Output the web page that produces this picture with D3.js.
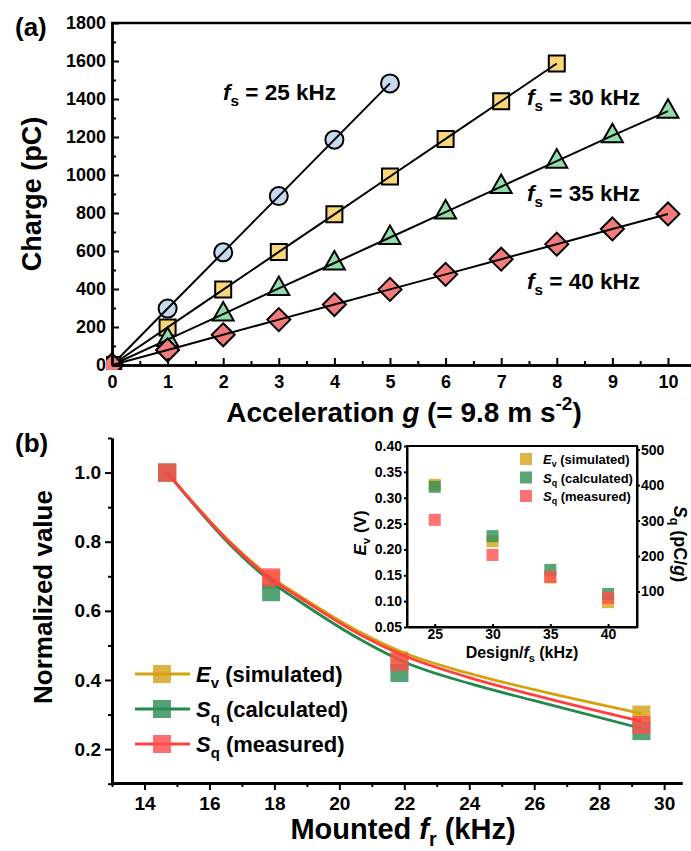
<!DOCTYPE html>
<html>
<head>
<meta charset="utf-8">
<script src="https://cdn.jsdelivr.net/npm/d3@7"></script>
<style>
  body { margin: 0; background: #fff; }
  svg text { font-family: "Liberation Sans", Arial, sans-serif; font-weight: bold; fill: #000; }
</style>
</head>
<body>
<div id="chart"></div>
<script>
// ---- panel (a): charge vs acceleration
const accel = [0, 1, 2, 3, 4, 5, 6, 7, 8, 9, 10];
const charge25 = [0, 297, 593, 889, 1186, 1482];
const charge30 = [0, 198, 397, 595, 793, 992, 1190, 1388, 1587];
const charge35 = [0, 134, 268, 403, 537, 671, 805, 939, 1073, 1207, 1336];
const charge40 = [0, 79, 159, 239, 318, 398, 477, 557, 636, 716, 795];
const ticksAx = [0, 1, 2, 3, 4, 5, 6, 7, 8, 9, 10];
const ticksAy = [0, 200, 400, 600, 800, 1000, 1200, 1400, 1600, 1800];

// ---- panel (b): normalized values vs mounted fr
const mountedFr = [14.7, 17.9, 21.85, 29.3];
const normEv = [1.0, 0.69, 0.457, 0.30];
const normSqCalc = [1.0, 0.654, 0.42, 0.252];
const normSqMeas = [1.0, 0.697, 0.452, 0.27];
// fitted curves
const fitFr = [14.7, 16.6, 17.9, 18.7, 20.7, 22, 24, 26, 29.3];
const fitEv = [1.0, 0.803, 0.697, 0.648, 0.535, 0.478, 0.419, 0.372, 0.303];
const fitSqCalc = [1.0, 0.795, 0.684, 0.632, 0.514, 0.452, 0.39, 0.34, 0.26];
const fitSqMeas = [1.0, 0.80, 0.692, 0.643, 0.528, 0.47, 0.407, 0.356, 0.28];
const ticksBx = [14, 16, 18, 20, 22, 24, 26, 28, 30];
const ticksBy = [0.2, 0.4, 0.6, 0.8, 1.0];

// ---- inset
const designFs = [25, 30, 35, 40];
const evSim = [0.325, 0.216, 0.146, 0.098];
const sqCalc = [395, 256, 161, 93];
const sqMeas = [302, 203, 141, 82];
const ticksInX = [25, 30, 35, 40];
const ticksInL = [0.05, 0.10, 0.15, 0.20, 0.25, 0.30, 0.35, 0.40];
const ticksInR = [100, 200, 300, 400, 500];

const W = 691, H = 851;
const svg = d3.select("#chart").append("svg")
  .attr("width", W).attr("height", H)
  .attr("viewBox", [0, 0, W, H]);

// text with italic / sub / sup pieces
function rich(parent, x, y, parts, size, anchor, rotate) {
  const t = parent.append("text")
    .attr("x", x).attr("y", y)
    .attr("font-size", size)
    .attr("text-anchor", anchor || "start");
  if (rotate) t.attr("transform", `rotate(${rotate},${x},${y})`);
  let shift = 0;
  parts.forEach(p => {
    const ts = t.append("tspan").text(p.t);
    const target = p.sub ? size * 0.25 : p.sup ? -size * 0.42 : 0;
    if (target !== shift) { ts.attr("dy", target - shift); shift = target; }
    if (p.sub || p.sup) ts.attr("font-size", size * 0.68);
    if (p.i) ts.attr("font-style", "italic");
  });
  return t;
}

function styleAxis(g, size, w) {
  g.attr("font-family", null).attr("font-size", null);
  g.select(".domain").attr("stroke-width", w || 2.5).attr("stroke", "#000");
  g.selectAll(".tick line").attr("stroke-width", 2).attr("stroke", "#000");
  g.selectAll(".tick text").attr("font-size", size).attr("fill", "#000");
}

// ================= panel (a)
const xA = d3.scaleLinear().domain([0, 10.45]).range([112, 693]);
const yA = d3.scaleLinear().domain([0, 1800]).range([365, 23]);

svg.append("defs").append("clipPath").attr("id", "clipA")
  .append("rect").attr("x", 106).attr("y", 0).attr("width", 600).attr("height", 370);

const gA = svg.append("g").attr("clip-path", "url(#clipA)");

const seriesA = [
  { vals: charge25, shape: "circle", fill: "#c6d9ee" },
  { vals: charge30, shape: "square", fill: "#f9d776" },
  { vals: charge35, shape: "triangle", fill: "#90dcaa" },
  { vals: charge40, shape: "diamond", fill: "#f47b7b" }
];

const shapes = {
  circle: "M9,0A9,9 0 1,1 -9,0A9,9 0 1,1 9,0Z",
  square: "M-8,-8H8V8H-8Z",
  triangle: "M0,-12L10.5,6.5L-10.5,6.5Z",
  diamond: "M0,-11.5L11.5,0L0,11.5L-11.5,0Z"
};

const lineA = d3.line().x((d, i) => xA(accel[i])).y(d => yA(d));

seriesA.forEach(s => {
  gA.selectAll(null).data(s.vals).enter().append("path")
    .attr("d", shapes[s.shape])
    .attr("transform", (d, i) => `translate(${xA(accel[i])},${yA(d)})`)
    .attr("fill", s.fill).attr("stroke", "#000").attr("stroke-width", 2);
  gA.append("path").datum(s.vals)
    .attr("d", lineA).attr("fill", "none")
    .attr("stroke", "#000").attr("stroke-width", 2);
});

// axes (a)
const axAx = svg.append("g").attr("transform", "translate(0,365)")
  .call(d3.axisBottom(xA).tickValues(ticksAx).tickSize(-7).tickSizeOuter(0).tickPadding(10));
styleAxis(axAx, 18);
const axAxm = svg.append("g").attr("transform", "translate(0,365)")
  .call(d3.axisBottom(xA).tickValues(ticksAx.slice(0, -1).map(v => v + 0.5)).tickSize(-4).tickSizeOuter(0).tickFormat(""));
styleAxis(axAxm, 18);
const axAy = svg.append("g").attr("transform", "translate(112,0)")
  .call(d3.axisLeft(yA).tickValues(ticksAy).tickSize(-7).tickSizeOuter(0).tickPadding(6).tickFormat(d3.format("d")));
styleAxis(axAy, 18);
const axAym = svg.append("g").attr("transform", "translate(112,0)")
  .call(d3.axisLeft(yA).tickValues(ticksAy.slice(0, -1).map(v => v + 100)).tickSize(-4).tickSizeOuter(0).tickFormat(""));
styleAxis(axAym, 18);
svg.append("line").attr("x1", 111).attr("x2", 693).attr("y1", 23).attr("y2", 23)
  .attr("stroke", "#000").attr("stroke-width", 2.5);

rich(svg, 15, 36, [{ t: "(a)" }], 26);
rich(svg, 41, 194, [{ t: "Charge (pC)" }], 27, "middle", -90);
rich(svg, 404, 422, [{ t: "Acceleration " }, { t: "g", i: 1 }, { t: " (= 9.8 m s" }, { t: "-2", sup: 1 }, { t: ")" }], 28, "middle");

const fsLabels = [
  { x: 223, y: 100, v: "25" },
  { x: 527, y: 105, v: "30" },
  { x: 527, y: 201, v: "35" },
  { x: 527, y: 289, v: "40" }
];
fsLabels.forEach(l => rich(svg, l.x, l.y, [{ t: "f", i: 1 }, { t: "s", sub: 1 }, { t: ` = ${l.v} kHz` }], 22.5));

// ================= panel (b)
const xB = d3.scaleLinear().domain([13, 30.55]).range([112, 682]);
const yB = d3.scaleLinear().domain([0.102, 1.1]).range([783, 438]);

const seriesB = [
  { pts: normEv, fit: fitEv, line: "#d4a10f", fill: "#d4a119", parts: [{ t: "E", i: 1 }, { t: "v", sub: 1 }, { t: " (simulated)" }] },
  { pts: normSqCalc, fit: fitSqCalc, line: "#23894a", fill: "#2f8f55", parts: [{ t: "S", i: 1 }, { t: "q", sub: 1 }, { t: " (calculated)" }] },
  { pts: normSqMeas, fit: fitSqMeas, line: "#ff4040", fill: "#ff4f4f", parts: [{ t: "S", i: 1 }, { t: "q", sub: 1 }, { t: " (measured)" }] }
];

const lineB = d3.line().x((d, i) => xB(fitFr[i])).y(d => yB(d)).curve(d3.curveMonotoneX);
const gB = svg.append("g");
seriesB.forEach(s => {
  gB.selectAll(null).data(s.pts).enter().append("rect")
    .attr("x", (d, i) => xB(mountedFr[i]) - 9).attr("y", d => yB(d) - 9)
    .attr("width", 18).attr("height", 18)
    .attr("fill", s.fill).attr("fill-opacity", 0.82);
  gB.append("path").datum(s.fit).attr("d", lineB)
    .attr("fill", "none").attr("stroke", s.line).attr("stroke-width", 2.8);
});

const axBx = svg.append("g").attr("transform", "translate(0,783)")
  .call(d3.axisBottom(xB).tickValues(ticksBx).tickSize(7).tickSizeOuter(0).tickPadding(7));
styleAxis(axBx, 19, 3);
const axBxm = svg.append("g").attr("transform", "translate(0,783)")
  .call(d3.axisBottom(xB).tickValues(ticksBx.map(v => v - 1)).tickSize(4).tickSizeOuter(0).tickFormat(""));
styleAxis(axBxm, 19, 3);
const axBy = svg.append("g").attr("transform", "translate(112,0)")
  .call(d3.axisLeft(yB).tickValues(ticksBy).tickSize(7).tickSizeOuter(0).tickPadding(4).tickFormat(d3.format(".1f")));
styleAxis(axBy, 19, 3);
const axBym = svg.append("g").attr("transform", "translate(112,0)")
  .call(d3.axisLeft(yB).tickValues(ticksBy.map(v => v - 0.1).concat([1.1])).tickSize(4).tickSizeOuter(0).tickFormat(""));
styleAxis(axBym, 19, 3);

rich(svg, 15, 452, [{ t: "(b)" }], 26);
rich(svg, 52, 597, [{ t: "Normalized value" }], 26, "middle", -90);
rich(svg, 403, 839, [{ t: "Mounted " }, { t: "f", i: 1 }, { t: "r", sub: 1 }, { t: " (kHz)" }], 29, "middle");

// legend (b)
const legB = svg.append("g");
seriesB.forEach((s, i) => {
  const cy = 674 + i * 35;
  legB.append("line").attr("x1", 135).attr("x2", 190).attr("y1", cy).attr("y2", cy)
    .attr("stroke", s.line).attr("stroke-width", 2.8);
  legB.append("rect").attr("x", 153).attr("y", cy - 9).attr("width", 18).attr("height", 18)
    .attr("fill", s.fill).attr("fill-opacity", 0.82);
  rich(legB, 196, cy + 8, s.parts, 22);
});

// ================= inset
const xI = d3.scaleLinear().domain([22.6, 42.5]).range([407, 637]);
const yIL = d3.scaleLinear().domain([0.05, 0.40]).range([627, 446]);
const yIR = d3.scaleLinear().domain([0, 510]).range([627, 446]);
const gI = svg.append("g");
gI.append("rect").attr("x", 407).attr("y", 446).attr("width", 230).attr("height", 181)
  .attr("fill", "#fff");

const seriesI = [
  { vals: evSim, y: yIL, fill: seriesB[0].fill, parts: seriesB[0].parts },
  { vals: sqCalc, y: yIR, fill: seriesB[1].fill, parts: seriesB[1].parts },
  { vals: sqMeas, y: yIR, fill: seriesB[2].fill, parts: seriesB[2].parts }
];
seriesI.forEach(s => {
  gI.selectAll(null).data(s.vals).enter().append("rect")
    .attr("x", (d, i) => xI(designFs[i]) - 6).attr("y", d => s.y(d) - 6)
    .attr("width", 12).attr("height", 12)
    .attr("fill", s.fill).attr("fill-opacity", 0.8);
});
seriesI.forEach((s, i) => {
  const cy = 459 + i * 18.5;
  gI.append("rect").attr("x", 520).attr("y", cy - 6).attr("width", 12).attr("height", 12)
    .attr("fill", s.fill).attr("fill-opacity", 0.8);
  rich(gI, 543, cy + 5, s.parts, 13);
});

gI.append("rect").attr("x", 407).attr("y", 446).attr("width", 230).attr("height", 181)
  .attr("fill", "none").attr("stroke", "#000").attr("stroke-width", 2);

const axIx = gI.append("g").attr("transform", "translate(0,627)")
  .call(d3.axisBottom(xI).tickValues(ticksInX).tickSize(-3).tickSizeOuter(0).tickPadding(2));
styleAxis(axIx, 14, 2);
const axIl = gI.append("g").attr("transform", "translate(407,0)")
  .call(d3.axisLeft(yIL).tickValues(ticksInL).tickSize(3).tickSizeOuter(0).tickPadding(2).tickFormat(d3.format(".2f")));
styleAxis(axIl, 14, 2);
const axIr = gI.append("g").attr("transform", "translate(637,0)")
  .call(d3.axisRight(yIR).tickValues(ticksInR).tickSize(3).tickSizeOuter(0).tickPadding(1));
styleAxis(axIr, 14, 2);

rich(gI, 366, 533, [{ t: "E", i: 1 }, { t: "v", sub: 1 }, { t: " (V)" }], 17, "middle", -90);
rich(gI, 674, 544, [{ t: "S", i: 1 }, { t: "q", sub: 1 }, { t: " (pC/" }, { t: "g", i: 1 }, { t: ")" }], 18, "middle", 90);
rich(gI, 522, 658, [{ t: "Design/" }, { t: "f", i: 1 }, { t: "s", sub: 1 }, { t: " (kHz)" }], 16, "middle");
</script>
</body>
</html>
